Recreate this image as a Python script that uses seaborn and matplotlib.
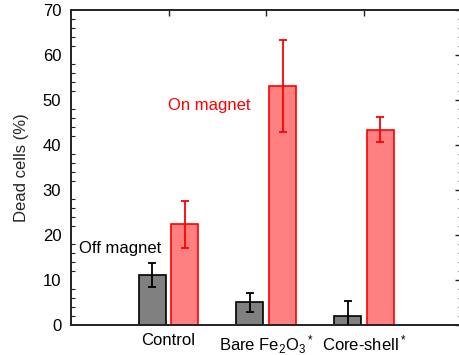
import matplotlib
matplotlib.use("Agg")
import matplotlib.pyplot as plt
import seaborn as sns
import pandas as pd
from matplotlib.ticker import MultipleLocator

categories = ["Control", r"Bare Fe$_2$O$_3$$^*$", r"Core-shell$^*$"]
conditions = ["Off magnet", "On magnet"]
off_values = [11.1, 5.1, 2.1]
off_err = [2.6, 2.1, 3.3]
on_values = [22.4, 53.1, 43.4]
on_err = [5.2, 10.2, 2.8]

sns.set_theme(style="white")
plt.rcParams["font.family"] = ["Liberation Sans", "DejaVu Sans"]
plt.rcParams["mathtext.default"] = "regular"

df = pd.DataFrame({
    "category": categories * 2,
    "condition": [conditions[0]] * 3 + [conditions[1]] * 3,
    "value": off_values + on_values,
})

fig = plt.figure(figsize=(4.59, 3.55), dpi=100)
ax = fig.add_axes([71 / 459, 30 / 355, (461.5 - 71) / 459, 315 / 355])

palette = {"Off magnet": "#808080", "On magnet": "#ff8080"}
edges = {"Off magnet": "black", "On magnet": "#ff0000"}
sns.barplot(data=df, x="category", y="value", hue="condition", order=categories,
            hue_order=conditions, palette=palette, width=0.667, gap=0.17,
            errorbar=None, legend=False, ax=ax, saturation=1, linewidth=1.2)

for cont, cond, errs in zip(ax.containers, conditions, [off_err, on_err]):
    xs, ys = [], []
    for bar in cont:
        bar.set_edgecolor(edges[cond])
        bar.set_linewidth(1.2)
        xs.append(bar.get_x() + bar.get_width() / 2)
        ys.append(bar.get_height())
    ax.errorbar(xs, ys, yerr=errs, fmt="none", ecolor="black" if cond == "Off magnet" else "#ff0000",
                elinewidth=1.3, capsize=2.6, capthick=1.3, zorder=5)

ax.set_xlim(-1, 3)
ax.set_ylim(0, 70)
ax.yaxis.set_major_locator(MultipleLocator(10))
ax.yaxis.set_minor_locator(MultipleLocator(2))
ax.set_xlabel("")
ax.set_ylabel("Dead cells (%)", fontsize=12, labelpad=10)

for s in ax.spines.values():
    s.set_color("#222222")
    s.set_linewidth(1.4)
    s.set_visible(True)

ax.tick_params(axis="both", which="both", direction="in", top=True, right=True,
               colors="#222222", labelcolor="black", labelsize=12)
ax.tick_params(axis="y", which="major", length=4.8, width=1, pad=7)
ax.tick_params(axis="y", which="minor", length=2.9, width=0.8, left=True, right=True)
ax.tick_params(axis="x", which="major", length=4.3, width=1, pad=6)
ax.tick_params(axis="x", which="minor", bottom=False, top=False)

ax.text(-0.913, 17.1, "Off magnet", fontsize=12, color="black", va="center", ha="left")
ax.text(-0.01, 48.7, "On magnet", fontsize=12, color="#ff0000", va="center", ha="left")

fig.savefig("out.png", dpi=100)
